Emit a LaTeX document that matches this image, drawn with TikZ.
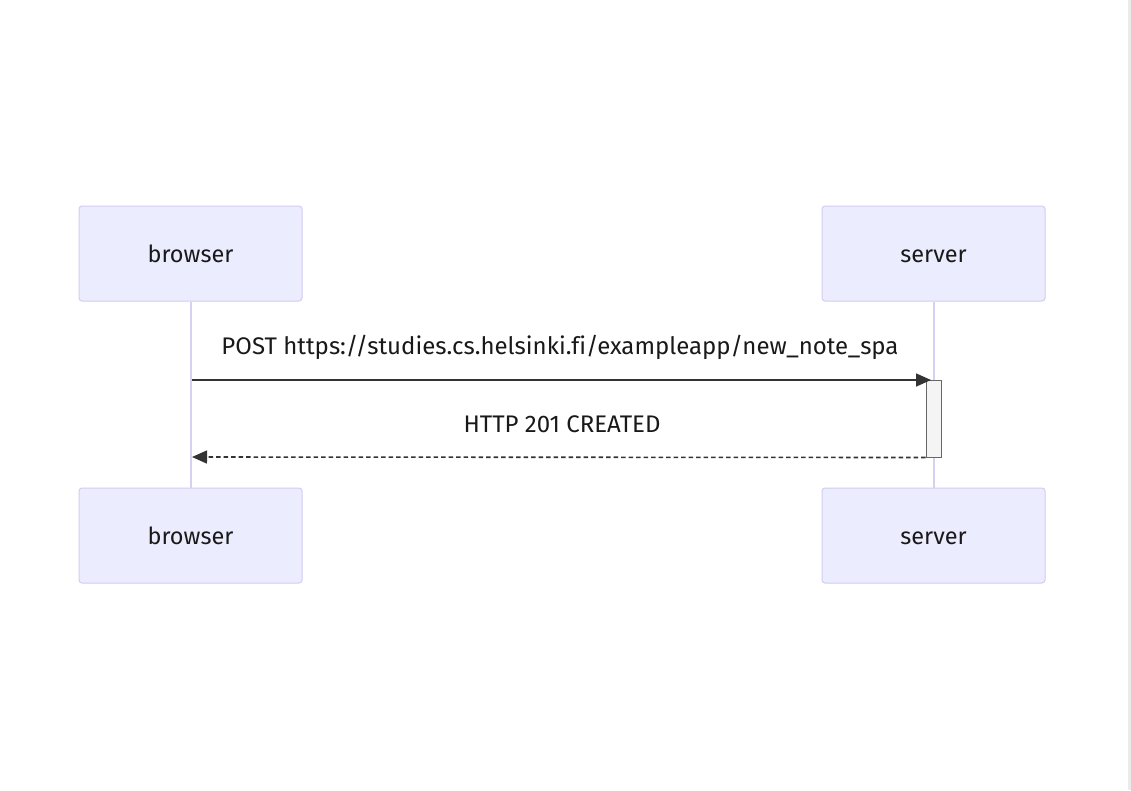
\documentclass[tikz,border=0pt]{standalone}
\usepackage{fontspec}
\setmainfont{Fira Sans}[Ligatures=NoCommon]
\usetikzlibrary{arrows.meta}
\definecolor{actfill}{HTML}{ECECFF}
\definecolor{actline}{HTML}{D4CCF0}
\definecolor{life}{HTML}{D8D0F0}
\definecolor{msg}{HTML}{333333}
\definecolor{actv}{HTML}{F4F4F4}
\definecolor{actvline}{HTML}{666666}
\definecolor{edge}{HTML}{EBEBEB}
\begin{document}
\begin{tikzpicture}[x=1pt,y=-1pt,
  actor/.style={draw=actline,fill=actfill,rounded corners=3pt,line width=1pt,minimum width=223pt,minimum height=95pt,inner sep=0pt,text height=17pt,text depth=0pt,font=\fontsize{23.5}{26}\selectfont,text=black!90},
  lifeline/.style={draw=life,line width=2pt},
  msgline/.style={draw=msg,line width=1.6pt},
  lbl/.style={font=\fontsize{24}{27}\selectfont,text=black!90,inner sep=0pt,anchor=base}]
\useasboundingbox (0,0) rectangle (1131,790);
\fill[white] (0,0) rectangle (1131,790);
\fill[edge] (1128,0) rectangle (1131,790);
\node[actor] (b1) at (190.5,253.5) {browser};
\node[actor] (s1) at (933.5,253.5) {server};
\node[actor] (b2) at (190.5,535.5) {browser};
\node[actor] (s2) at (933.5,535.5) {server};
\draw[lifeline] (b1.south) -- (b2.north);
\draw[lifeline] (s1.south) -- (s2.north);
\node[draw=actvline,fill=actv,line width=1pt,minimum width=15pt,minimum height=77pt,inner sep=0pt] (act) at (933.5,418.5) {};
\coordinate (p1) at (192,380);
\coordinate (p2) at (931,380);
\draw[msgline,-{Triangle[length=15pt,width=13pt]}] (p1) -- (p2);
\coordinate (q1) at (192,457);
\draw[msgline,dash pattern=on 4.5pt off 3pt,-{Triangle[length=15pt,width=13pt]}] (act.south west) -- (q1);
\node[lbl] (l1) at (560,354) {POST https://studies.cs.helsinki.fi/exampleapp/new\_note\_spa};
\node[lbl] (l2) at (562,432) {HTTP 201 CREATED};
\end{tikzpicture}
\end{document}
